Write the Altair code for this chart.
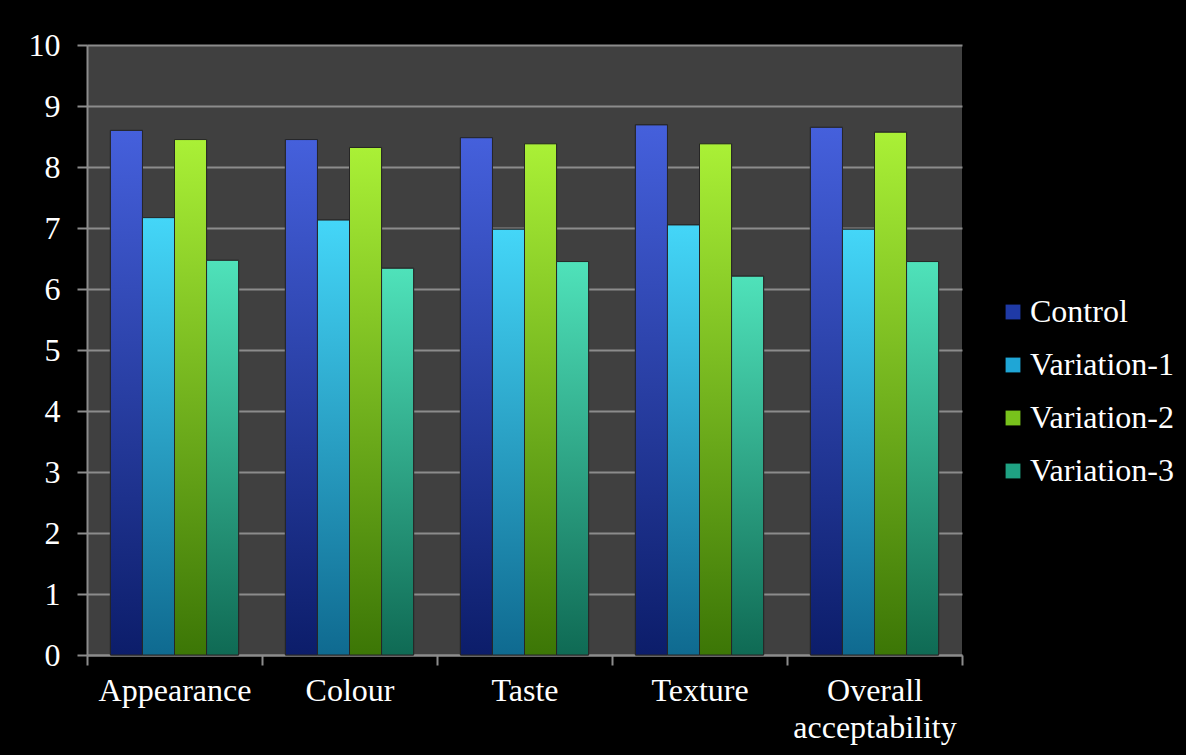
import altair as alt
import pandas as pd

categories = ["Appearance", "Colour", "Taste", "Texture", "Overall acceptability"]
series = ["Control", "Variation-1", "Variation-2", "Variation-3"]
control = [8.60, 8.45, 8.48, 8.69, 8.65]
variation1 = [7.17, 7.13, 6.98, 7.05, 6.98]
variation2 = [8.45, 8.32, 8.38, 8.38, 8.57]
variation3 = [6.47, 6.34, 6.45, 6.21, 6.45]
y_ticks = [0, 1, 2, 3, 4, 5, 6, 7, 8, 9, 10]

legend_colors = ["#1f3aa6", "#1fa6d6", "#78c21c", "#1fa283"]
grad_top = ["#4560dc", "#44d6f8", "#aaf036", "#4fe2ba"]
grad_bottom = ["#0c1d6a", "#0f6a90", "#3c7606", "#0f6a54"]

rows = []
for s, vals in zip(series, [control, variation1, variation2, variation3]):
    for c, v in zip(categories, vals):
        rows.append({"Attribute": c, "Series": s, "Score": v})
df = pd.DataFrame(rows)

FONT = "Liberation Serif"
FS = 32

x = alt.X("Attribute:N", sort=categories,
          scale=alt.Scale(domain=categories, paddingInner=0, paddingOuter=0),
          axis=alt.Axis(title=None, labelAngle=0, tickBand="extent", grid=False,
                        labelExpr="split(datum.label, ' ')", labelLineHeight=37,
                        labelBaseline="top", labelPadding=10, tickSize=10,
                        labelFont=FONT, labelFontSize=FS))
xo = alt.XOffset("Series:N", sort=series,
                 scale=alt.Scale(domain=series, paddingInner=0, paddingOuter=0.73))
y = alt.Y("Score:Q", scale=alt.Scale(domain=[0, 10], nice=False),
          axis=alt.Axis(title=None, values=y_ticks, grid=True, tickSize=10,
                        labelPadding=17, format="d",
                        labelFont=FONT, labelFontSize=FS))

base = alt.Chart(df).mark_bar(stroke="#262626", strokeWidth=1).encode(
    x=x, xOffset=xo, y=y,
    color=alt.Color("Series:N", sort=series,
                    scale=alt.Scale(domain=series, range=legend_colors),
                    legend=alt.Legend(title=None, orient="none", legendX=910, legendY=251,
                                      symbolType="square", symbolSize=220,
                                      symbolStrokeWidth=0, rowPadding=21,
                                      labelFont=FONT, labelFontSize=FS,
                                      labelColor="white", labelOffset=1, padding=0,
                                      labelLimit=300)),
)

layers = [base]
for s, top, bot in zip(series, grad_top, grad_bottom):
    grad = alt.Gradient(gradient="linear",
                        stops=[alt.GradientStop(color=top, offset=0),
                               alt.GradientStop(color=bot, offset=1)],
                        x1=0, x2=0, y1=0, y2=1)
    layers.append(
        alt.Chart(df).transform_filter(alt.datum.Series == s)
        .mark_bar(fill=grad, stroke="#262626", strokeWidth=1)
        .encode(x=x, xOffset=xo, y=y)
    )

chart = alt.layer(*layers).properties(
    width=875, height=610,
    autosize=alt.AutoSizeParams(type="none"),
    padding={"left": 87, "top": 45, "right": 224, "bottom": 100},
    background="black",
).configure(
    font=FONT,
).configure_view(
    fill="#404040", stroke=None,
).configure_axis(
    labelFont=FONT, labelFontSize=FS, labelColor="white",
    domainColor="#8c8c8c", domainWidth=2, tickColor="#8c8c8c", tickWidth=2,
    gridColor="#8c8c8c", gridWidth=2,
).configure_legend(
    labelFont=FONT, labelFontSize=FS, labelColor="white",
)

chart.save("out.html", embed_options={"renderer": "svg", "actions": False})
